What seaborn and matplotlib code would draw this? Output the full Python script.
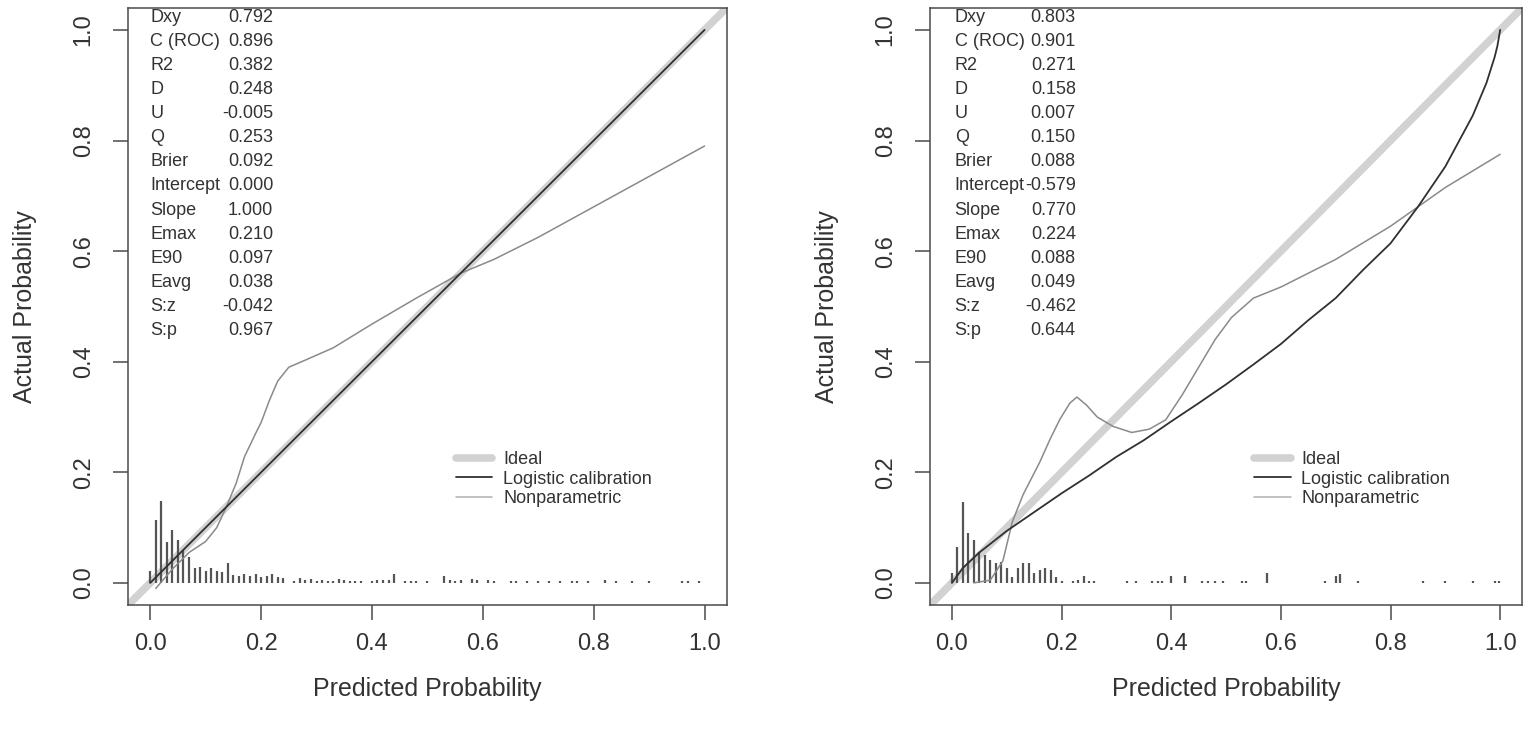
import numpy as np
import pandas as pd
import matplotlib
matplotlib.use("Agg")
import matplotlib.pyplot as plt
import seaborn as sns
from matplotlib.lines import Line2D

# ---- data ----
stat_names = ["Dxy", "C (ROC)", "R2", "D", "U", "Q", "Brier", "Intercept",
              "Slope", "Emax", "E90", "Eavg", "S:z", "S:p"]
stats_left = ["0.792", "0.896", "0.382", "0.248", "-0.005", "0.253", "0.092",
              "0.000", "1.000", "0.210", "0.097", "0.038", "-0.042", "0.967"]
stats_right = ["0.803", "0.901", "0.271", "0.158", "0.007", "0.150", "0.088",
               "-0.579", "0.770", "0.224", "0.088", "0.049", "-0.462", "0.644"]

# logistic calibration curves
logit_x_left = [0.0, 1.0]
logit_y_left = [0.0, 1.0]
logit_x_right = [0.0, 0.02, 0.05, 0.1, 0.15, 0.2, 0.25, 0.3, 0.35, 0.4, 0.45, 0.5, 0.55, 0.6,
                 0.65, 0.7, 0.75, 0.8, 0.85, 0.9, 0.95, 0.975, 0.99, 0.995, 0.999, 1.0]
logit_y_right = [0.0, 0.027, 0.055, 0.094, 0.128, 0.162, 0.194, 0.228, 0.258, 0.292, 0.325, 0.359,
                 0.395, 0.432, 0.475, 0.515, 0.566, 0.614, 0.68, 0.753, 0.845, 0.904, 0.951,
                 0.971, 0.994, 1.0]

# nonparametric (lowess) curves
np_x_left = [0.01, 0.04, 0.07, 0.1, 0.12, 0.135, 0.155, 0.17, 0.19, 0.2, 0.215, 0.23, 0.25,
             0.28, 0.33, 0.4, 0.48, 0.56, 0.62, 0.7, 0.8, 0.9, 1.0]
np_y_left = [-0.01, 0.025, 0.055, 0.075, 0.1, 0.132, 0.18, 0.228, 0.27, 0.29, 0.33, 0.365, 0.39,
             0.403, 0.425, 0.468, 0.515, 0.56, 0.585, 0.625, 0.68, 0.735, 0.79]
np_x_right = [0.04, 0.07, 0.093, 0.11, 0.13, 0.16, 0.18, 0.197, 0.215, 0.228, 0.245, 0.265, 0.294,
              0.328, 0.36, 0.39, 0.42, 0.45, 0.48, 0.51, 0.55, 0.6, 0.65, 0.7, 0.8, 0.85, 0.9, 1.0]
np_y_right = [0.0, 0.005, 0.04, 0.11, 0.16, 0.218, 0.262, 0.296, 0.325, 0.336, 0.322, 0.3, 0.283,
              0.272, 0.278, 0.295, 0.34, 0.39, 0.44, 0.48, 0.515, 0.535, 0.56, 0.585, 0.645, 0.68, 0.715, 0.775]

# spike histograms of predicted probabilities
hist_x_left = [0.00, 0.01, 0.02, 0.03, 0.04, 0.05, 0.06, 0.07, 0.08, 0.09, 0.10, 0.11, 0.12, 0.13,
               0.14, 0.15, 0.16, 0.17, 0.18, 0.19, 0.20, 0.21, 0.22, 0.23, 0.24, 0.26, 0.27, 0.28,
               0.29, 0.30, 0.31, 0.32, 0.33, 0.34, 0.35, 0.36, 0.37, 0.38, 0.40, 0.41, 0.42, 0.43,
               0.44, 0.46, 0.47, 0.48, 0.50, 0.53, 0.54, 0.55, 0.56, 0.58, 0.59, 0.61, 0.62, 0.65,
               0.66, 0.68, 0.70, 0.72, 0.74, 0.76, 0.77, 0.79, 0.82, 0.84, 0.87, 0.90, 0.96, 0.97, 0.99]
hist_h_left = [0.022, 0.113, 0.148, 0.074, 0.095, 0.078, 0.06, 0.047, 0.027, 0.028, 0.022, 0.027,
               0.022, 0.02, 0.036, 0.015, 0.012, 0.016, 0.012, 0.016, 0.01, 0.013, 0.016, 0.01,
               0.008, 0.004, 0.009, 0.005, 0.007, 0.004, 0.006, 0.004, 0.003, 0.007, 0.005, 0.003,
               0.004, 0.003, 0.004, 0.006, 0.006, 0.006, 0.016, 0.003, 0.003, 0.003, 0.003, 0.012,
               0.006, 0.004, 0.005, 0.007, 0.005, 0.005, 0.004, 0.004, 0.004, 0.003, 0.003, 0.003,
               0.003, 0.003, 0.003, 0.003, 0.005, 0.003, 0.003, 0.003, 0.003, 0.003, 0.004]
hist_x_right = [0.00, 0.01, 0.02, 0.03, 0.04, 0.05, 0.06, 0.07, 0.08, 0.09, 0.10, 0.11, 0.12, 0.13,
                0.14, 0.15, 0.16, 0.17, 0.18, 0.19, 0.20, 0.22, 0.23, 0.24, 0.25, 0.26, 0.32, 0.335,
                0.365, 0.375, 0.383, 0.40, 0.425, 0.456, 0.467, 0.48, 0.494, 0.53, 0.536, 0.575,
                0.68, 0.70, 0.708, 0.74, 0.86, 0.90, 0.95, 0.99, 0.998]
hist_h_right = [0.018, 0.065, 0.147, 0.09, 0.078, 0.056, 0.05, 0.042, 0.036, 0.038, 0.027, 0.011,
                0.027, 0.036, 0.036, 0.018, 0.024, 0.027, 0.024, 0.011, 0.004, 0.004, 0.006, 0.012,
                0.004, 0.004, 0.003, 0.003, 0.003, 0.003, 0.004, 0.012, 0.012, 0.003, 0.003, 0.003,
                0.003, 0.003, 0.003, 0.018, 0.004, 0.012, 0.016, 0.003, 0.003, 0.003, 0.003, 0.003, 0.003]

ticks = [0.0, 0.2, 0.4, 0.6, 0.8, 1.0]
tick_labels = ["0.0", "0.2", "0.4", "0.6", "0.8", "1.0"]

sns.set_style("white")
plt.rcParams['font.family'] = ['Liberation Sans', 'DejaVu Sans']

fig = plt.figure(figsize=(15.39, 7.41), dpi=100)
ax1 = fig.add_axes([0.0832, 0.1835, 0.389, 0.806])
ax2 = fig.add_axes([0.6043, 0.1835, 0.3847, 0.806])

ideal_c = "#d2d2d2"
dark_c = "#303030"
light_c = "#8a8a8a"
box_c = "#4a4a4a"
txt_c = "#333333"

panels = [
    (ax1, stats_left, logit_x_left, logit_y_left, np_x_left, np_y_left, hist_x_left, hist_h_left, 0.222),
    (ax2, stats_right, logit_x_right, logit_y_right, np_x_right, np_y_right, hist_x_right, hist_h_right, 0.226),
]

for ax, stats, lx, ly, nx, ny, hx, hh, val_x in panels:
    ax.axline((0, 0), (1, 1), color=ideal_c, lw=5.5, zorder=1, solid_capstyle="butt")
    ax.vlines(hx, 0, hh, color="#555555", lw=1.6, zorder=2)
    sns.lineplot(x=nx, y=ny, ax=ax, color=light_c, lw=1.1, sort=False, estimator=None, zorder=3)
    sns.lineplot(x=lx, y=ly, ax=ax, color=dark_c, lw=1.3, sort=False, estimator=None, zorder=4)

    ax.set_xlim(-0.04, 1.04)
    ax.set_ylim(-0.04, 1.04)
    ax.set_xticks(ticks, tick_labels)
    ax.set_yticks(ticks, tick_labels)
    ax.tick_params(axis="both", direction="out", length=11, width=1.1, color=box_c,
                   labelsize=17, labelcolor=txt_c, pad=9, bottom=True, left=True)
    ax.tick_params(axis="y", labelrotation=90, pad=13)
    for lab in ax.get_yticklabels():
        lab.set_verticalalignment("center")
    for sp in ax.spines.values():
        sp.set_visible(True)
        sp.set_color(box_c)
        sp.set_linewidth(1.1)
    ax.set_xlabel("Predicted Probability", fontsize=18, color=txt_c, labelpad=16)
    ax.set_ylabel("Actual Probability", fontsize=18, color=txt_c, labelpad=26)

    # stats table in upper-left
    for i, (name, val) in enumerate(zip(stat_names, stats)):
        y = 1.023 - i * 0.0436
        ax.text(0.0 if ax is ax1 else 0.005, y, name, fontsize=13, color=txt_c, va="center", ha="left")
        ax.text(val_x, y, val, fontsize=13, color=txt_c, va="center", ha="right")

    handles = [Line2D([], [], color=ideal_c, lw=5.5),
               Line2D([], [], color=dark_c, lw=1.3),
               Line2D([], [], color="#b0b0b0", lw=1.1)]
    ax.legend(handles, ["Ideal", "Logistic calibration", "Nonparametric"],
              loc="upper left", bbox_to_anchor=(0.548, 0.258), frameon=False,
              fontsize=13, labelcolor=txt_c, handlelength=2.0, handletextpad=0.6,
              labelspacing=0.15, borderpad=0, borderaxespad=0)

fig.savefig("out.png", dpi=100, facecolor="white")
